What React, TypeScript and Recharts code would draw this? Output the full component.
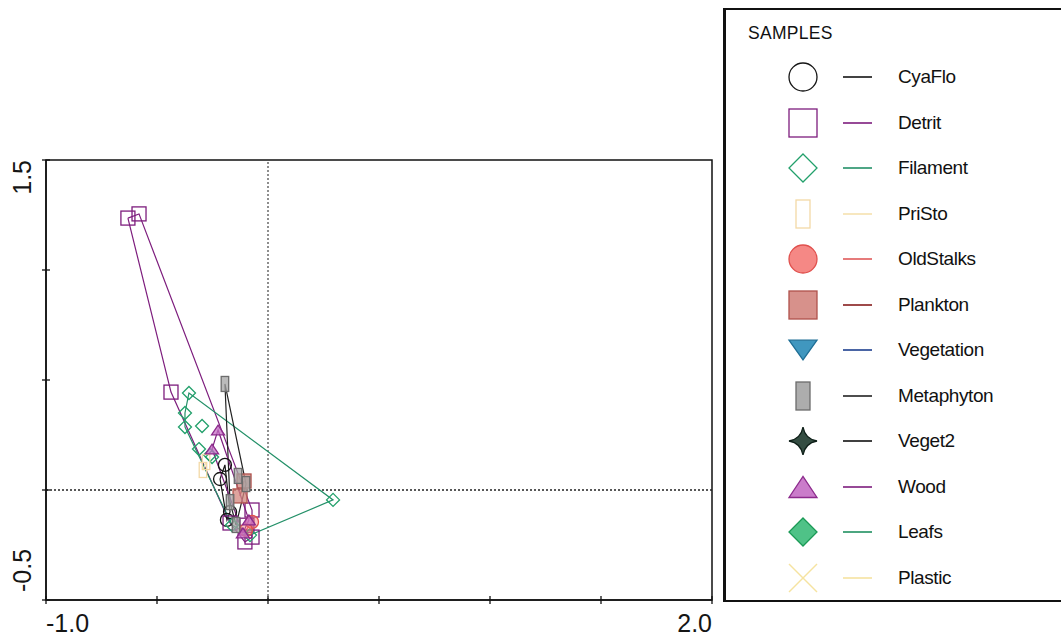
import React from "react";
import {
  ScatterChart,
  Scatter,
  XAxis,
  YAxis,
  ReferenceLine,
  ReferenceArea,
  Legend,
} from "recharts";

type Pt = { x: number; y: number };
type Kind =
  | "circle"
  | "square"
  | "diamond"
  | "tall"
  | "triDown"
  | "triUp"
  | "star"
  | "cross";

// sample scores
const cyaFlo: Pt[] = [
  { x: -0.194, y: 0.114 },
  { x: -0.216, y: 0.05 },
  { x: -0.171, y: -0.1 },
  { x: -0.185, y: -0.136 },
];
const detrit: Pt[] = [
  { x: -0.631, y: 1.236 },
  { x: -0.581, y: 1.255 },
  { x: -0.437, y: 0.445 },
  { x: -0.171, y: -0.15 },
  { x: -0.104, y: -0.236 },
  { x: -0.072, y: -0.214 },
  { x: -0.072, y: -0.091 },
  { x: -0.095, y: -0.16 },
];
const filament: Pt[] = [
  { x: -0.356, y: 0.441 },
  { x: -0.374, y: 0.35 },
  { x: -0.374, y: 0.286 },
  { x: -0.297, y: 0.291 },
  { x: -0.311, y: 0.186 },
  { x: -0.261, y: 0.159 },
  { x: -0.252, y: 0.15 },
  { x: 0.293, y: -0.045 },
  { x: -0.162, y: -0.159 },
  { x: -0.081, y: -0.205 },
];
const priSto: Pt[] = [
  { x: -0.293, y: 0.091 },
  { x: -0.279, y: 0.127 },
];
const oldStalks: Pt[] = [
  { x: -0.072, y: -0.145 },
  { x: -0.099, y: -0.182 },
];
const plankton: Pt[] = [
  { x: -0.108, y: 0.041 },
  { x: -0.126, y: -0.027 },
];
const metaphyton: Pt[] = [
  { x: -0.194, y: 0.482 },
  { x: -0.099, y: 0.027 },
  { x: -0.135, y: 0.064 },
  { x: -0.171, y: -0.055 },
  { x: -0.144, y: -0.159 },
];
const wood: Pt[] = [
  { x: -0.225, y: 0.273 },
  { x: -0.252, y: 0.186 },
  { x: -0.086, y: -0.136 },
  { x: -0.113, y: -0.195 },
];
const empty: Pt[] = [];

const xTicks = [-1, -0.5, 0, 0.5, 1, 1.5, 2];
const yTicks = [-0.5, 0, 0.5, 1, 1.5];
const xLabels: Record<string, string> = { "-1": "-1.0", "2": "2.0" };
const yLabels: Record<string, string> = { "-0.5": "-0.5", "1.5": "1.5" };

const SERIES: {
  name: string;
  kind: Kind;
  fill: string;
  stroke: string;
  line: string;
  data: Pt[];
}[] = [
  { name: "CyaFlo", kind: "circle", fill: "none", stroke: "#151515", line: "#151515", data: cyaFlo },
  { name: "Detrit", kind: "square", fill: "none", stroke: "#7d1d7d", line: "#7d1d7d", data: detrit },
  { name: "Filament", kind: "diamond", fill: "none", stroke: "#22a06b", line: "#239068", data: filament },
  { name: "PriSto", kind: "tall", fill: "none", stroke: "#f3d9a6", line: "#f5e2b0", data: priSto },
  { name: "OldStalks", kind: "circle", fill: "#f47b78", stroke: "#e0504d", line: "#e05a5a", data: oldStalks },
  { name: "Plankton", kind: "square", fill: "#d3857e", stroke: "#b0524c", line: "#861c1c", data: plankton },
  { name: "Vegetation", kind: "triDown", fill: "#2b8cb8", stroke: "#1e6e95", line: "#1d3f8f", data: empty },
  { name: "Metaphyton", kind: "tall", fill: "#a4a4a4", stroke: "#6c6c6c", line: "#222", data: metaphyton },
  { name: "Veget2", kind: "star", fill: "#1e3a2d", stroke: "#0e1f18", line: "#111", data: empty },
  { name: "Wood", kind: "triUp", fill: "#c46ec4", stroke: "#8c2a8c", line: "#7d1d7d", data: wood },
  { name: "Leafs", kind: "diamond", fill: "#3cbb7a", stroke: "#1a9a55", line: "#1f9060", data: empty },
  { name: "Plastic", kind: "cross", fill: "none", stroke: "#f6e3a0", line: "#f6e3a0", data: empty },
];

function hull(pts: Pt[]): Pt[] {
  const p = [...pts].sort((a, b) => a.x - b.x || a.y - b.y);
  if (p.length < 3) return p;
  const cross = (o: Pt, a: Pt, b: Pt) =>
    (a.x - o.x) * (b.y - o.y) - (a.y - o.y) * (b.x - o.x);
  const lower: Pt[] = [];
  for (const q of p) {
    while (lower.length >= 2 && cross(lower[lower.length - 2], lower[lower.length - 1], q) <= 0) lower.pop();
    lower.push(q);
  }
  const upper: Pt[] = [];
  for (const q of [...p].reverse()) {
    while (upper.length >= 2 && cross(upper[upper.length - 2], upper[upper.length - 1], q) <= 0) upper.pop();
    upper.push(q);
  }
  lower.pop();
  upper.pop();
  const h = lower.concat(upper);
  return [...h, h[0]];
}

function Marker({
  kind, cx, cy, s, fill, stroke, op = 1,
}: { kind: Kind; cx: number; cy: number; s: number; fill: string; stroke: string; op?: number }) {
  const h = s / 2;
  const common = { fill, stroke, strokeWidth: 1.3, fillOpacity: op };
  switch (kind) {
    case "circle":
      return <circle cx={cx} cy={cy} r={h} {...common} />;
    case "square":
      return <rect x={cx - h} y={cy - h} width={s} height={s} {...common} />;
    case "diamond":
      return <polygon points={`${cx},${cy - h} ${cx + h},${cy} ${cx},${cy + h} ${cx - h},${cy}`} {...common} />;
    case "tall":
      return <rect x={cx - h / 2} y={cy - h} width={h} height={s} {...common} />;
    case "triDown":
      return <polygon points={`${cx - h},${cy - h * 0.7} ${cx + h},${cy - h * 0.7} ${cx},${cy + h * 0.7}`} {...common} />;
    case "triUp":
      return <polygon points={`${cx - h},${cy + h * 0.75} ${cx + h},${cy + h * 0.75} ${cx},${cy - h * 0.75}`} {...common} />;
    case "star": {
      const k = h * 0.15;
      return (
        <path
          d={`M${cx},${cy - h} Q${cx + k},${cy - k} ${cx + h},${cy} Q${cx + k},${cy + k} ${cx},${cy + h} Q${cx - k},${cy + k} ${cx - h},${cy} Q${cx - k},${cy - k} ${cx},${cy - h}Z`}
          {...common}
        />
      );
    }
    case "cross":
      return (
        <g stroke={stroke} strokeWidth={1.5}>
          <line x1={cx - h} y1={cy - h} x2={cx + h} y2={cy + h} />
          <line x1={cx - h} y1={cy + h} x2={cx + h} y2={cy - h} />
        </g>
      );
  }
}

const markerSize: Record<Kind, number> = {
  circle: 13, square: 14, diamond: 13, tall: 15, triDown: 13, triUp: 13, star: 14, cross: 13,
};

function XTick(props: any) {
  const { x, y, payload } = props;
  const label = xLabels[String(payload.value)];
  const anchor = payload.value < 0 ? "start" : "end";
  return (
    <g>
      <line x1={x} y1={y - 4} x2={x} y2={y + 4} stroke="#111" strokeWidth={1.3} />
      {label && (
        <text x={x} y={y + 32} textAnchor={anchor} fontSize={25} fill="#151515"
          fontFamily="'Liberation Sans', Arial, sans-serif">{label}</text>
      )}
    </g>
  );
}

function YTick(props: any) {
  const { x, y, payload } = props;
  const label = yLabels[String(payload.value)];
  const anchor = payload.value < 0 ? "start" : "end";
  const ty = payload.value < 0 ? y - 8 : y;
  return (
    <g>
      <line x1={x - 4} y1={y} x2={x + 4} y2={y} stroke="#111" strokeWidth={1.3} />
      {label && (
        <text x={31} y={ty} transform={`rotate(-90 31 ${ty})`} textAnchor={anchor} fontSize={25}
          fill="#151515" fontFamily="'Liberation Sans', Arial, sans-serif">{label}</text>
      )}
    </g>
  );
}

function SampleLegend() {
  return (
    <div
      style={{
        position: "relative", width: 338, height: 594, boxSizing: "border-box",
        borderTop: "2px solid #111", borderBottom: "2px solid #111", borderLeft: "3px solid #111",
        background: "#fff", fontFamily: "'Liberation Sans', Arial, sans-serif", color: "#111",
      }}
    >
      <div style={{ position: "absolute", left: 22, top: 13, fontSize: 17.5, letterSpacing: 0.3, lineHeight: "20px" }}>
        SAMPLES
      </div>
      {SERIES.map((s, i) => {
        const cy = 67 + i * 45.5;
        return (
          <div key={s.name} style={{ position: "absolute", left: 0, top: cy - 20, height: 40, width: 330 }}>
            <svg width={160} height={40} style={{ position: "absolute", left: 0, top: 0 }}>
              <Marker kind={s.kind} cx={77} cy={20} s={28} fill={s.fill} stroke={s.stroke} op={0.9} />
              <line x1={117} y1={20} x2={146} y2={20} stroke={s.line} strokeWidth={1.6} />
            </svg>
            <div style={{ position: "absolute", left: 172, top: 0, lineHeight: "40px", fontSize: 19, letterSpacing: -0.4 }}>
              {s.name}
            </div>
          </div>
        );
      })}
    </div>
  );
}

export default function App() {
  return (
    <div style={{ position: "absolute", left: 0, top: 0, background: "#fff" }}>
      <ScatterChart width={1061} height={638} margin={{ top: 160, right: 349, bottom: 0, left: 0 }}>
        <XAxis
          type="number" dataKey="x" domain={[-1, 2]} ticks={xTicks} height={38}
          tickLine={false} tickSize={0} tickMargin={0} tick={<XTick />}
          axisLine={{ stroke: "#111", strokeWidth: 1.5 }} allowDataOverflow
        />
        <YAxis
          type="number" dataKey="y" domain={[-0.5, 1.5]} ticks={yTicks} width={46}
          tickLine={false} tickSize={0} tickMargin={0} tick={<YTick />}
          axisLine={{ stroke: "#111", strokeWidth: 1.5 }} allowDataOverflow
        />
        <ReferenceArea x1={-1} x2={2} y1={-0.5} y2={1.5} fill="none" stroke="#111" strokeWidth={1.5} />
        <ReferenceLine x={0} stroke="#444" strokeDasharray="2 2" strokeWidth={1.2} />
        <ReferenceLine y={0} stroke="#222" strokeDasharray="2 2" strokeWidth={1.3} />
        {SERIES.filter((s) => s.data.length > 1).map((s) => (
          <Scatter
            key={s.name + "-hull"}
            data={hull(s.data)}
            line={{ stroke: s.line, strokeWidth: 1.2 }}
            lineType="joint"
            shape={() => <g />}
            isAnimationActive={false}
            legendType="none"
          />
        ))}
        {SERIES.filter((s) => s.data.length > 0).map((s) => (
          <Scatter
            key={s.name}
            name={s.name}
            data={s.data}
            isAnimationActive={false}
            shape={(p: any) => (
              <Marker kind={s.kind} cx={p.cx} cy={p.cy} s={markerSize[s.kind]} fill={s.fill}
                stroke={s.stroke} op={s.name === "OldStalks" ? 0.45 : 0.75} />
            )}
          />
        ))}
        <Legend
          layout="vertical" align="center" verticalAlign="middle"
          wrapperStyle={{ position: "absolute", left: 723, top: 8, width: 338, height: 594 }}
          content={() => <SampleLegend />}
        />
      </ScatterChart>
    </div>
  );
}
